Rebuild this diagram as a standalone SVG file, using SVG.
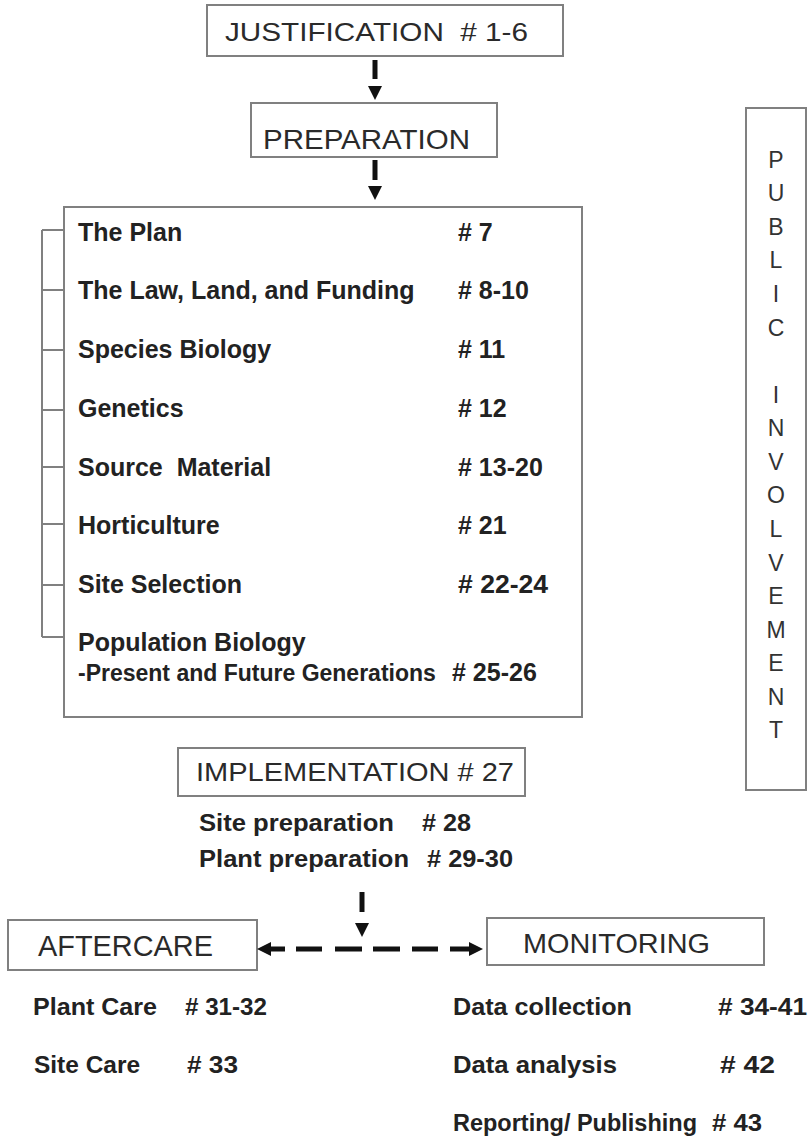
<svg xmlns="http://www.w3.org/2000/svg" width="811" height="1139" viewBox="0 0 811 1139">
<style>
.box{fill:#fff;stroke:#808080;stroke-width:2}
.reg{font-family:"Liberation Sans",Arial,sans-serif;fill:#2a2a2a}
.b{font-family:"Liberation Sans",Arial,sans-serif;font-weight:bold;fill:#222;font-size:25px}
.bs{font-family:"Liberation Sans",Arial,sans-serif;font-weight:bold;fill:#222;font-size:24px}
.dash{stroke:#111;stroke-width:5;fill:none}
.head{fill:#111}
.br{stroke:#808080;stroke-width:2;fill:none}
.pi{font-family:"Liberation Sans",Arial,sans-serif;fill:#333;font-size:23px;text-anchor:middle}
</style>
<rect width="811" height="1139" fill="#fff"/>

<g id="justification">
<rect class="box" x="207" y="5" width="356" height="51"/>
<text class="reg" x="225" y="41" font-size="26" textLength="303" lengthAdjust="spacingAndGlyphs">JUSTIFICATION&#160; # 1-6</text>
</g>

<g id="preparation">
<rect class="box" x="251" y="103" width="246" height="54"/>
<text class="reg" x="263" y="149" font-size="28" textLength="207" lengthAdjust="spacingAndGlyphs">PREPARATION</text>
</g>

<g id="prep-list">
<rect class="box" x="64" y="207" width="518" height="510"/>
<text class="b" x="78" y="241">The Plan</text><text class="b" x="458" y="241"># 7</text>
<text class="b" x="78" y="299">The Law, Land, and Funding</text><text class="b" x="458" y="299"># 8-10</text>
<text class="b" x="78" y="358">Species Biology</text><text class="b" x="458" y="358"># 11</text>
<text class="b" x="78" y="417">Genetics</text><text class="b" x="458" y="417"># 12</text>
<text class="b" x="78" y="476">Source&#160; Material</text><text class="b" x="458" y="476"># 13-20</text>
<text class="b" x="78" y="534">Horticulture</text><text class="b" x="458" y="534"># 21</text>
<text class="b" x="78" y="593">Site Selection</text><text class="b" x="458" y="593" textLength="90" lengthAdjust="spacingAndGlyphs"># 22-24</text>
<text class="b" x="78" y="651">Population Biology</text>
<text class="b" x="78" y="681" style="font-size:23px">-Present and Future Generations</text><text class="b" x="452" y="681"># 25-26</text>
</g>

<g id="public-involvement">
<rect class="box" x="746" y="108" width="60" height="682"/>
<text class="pi" x="776" y="168">P</text>
<text class="pi" x="776" y="201">U</text>
<text class="pi" x="776" y="235">B</text>
<text class="pi" x="776" y="268">L</text>
<text class="pi" x="776" y="302">I</text>
<text class="pi" x="776" y="336">C</text>
<text class="pi" x="776" y="403">I</text>
<text class="pi" x="776" y="436">N</text>
<text class="pi" x="776" y="470">V</text>
<text class="pi" x="776" y="503">O</text>
<text class="pi" x="776" y="537">L</text>
<text class="pi" x="776" y="571">V</text>
<text class="pi" x="776" y="604">E</text>
<text class="pi" x="776" y="638">M</text>
<text class="pi" x="776" y="671">E</text>
<text class="pi" x="776" y="705">N</text>
<text class="pi" x="776" y="738">T</text>
</g>

<g id="implementation">
<rect class="box" x="178" y="748" width="347" height="48"/>
<text class="reg" x="196" y="781" font-size="25" textLength="318" lengthAdjust="spacingAndGlyphs">IMPLEMENTATION # 27</text>
<text class="bs" x="199" y="831" textLength="195" lengthAdjust="spacingAndGlyphs">Site preparation</text><text class="bs" x="422" y="831" textLength="49" lengthAdjust="spacingAndGlyphs"># 28</text>
<text class="bs" x="199" y="867" textLength="210" lengthAdjust="spacingAndGlyphs">Plant preparation</text><text class="bs" x="427" y="867" textLength="86" lengthAdjust="spacingAndGlyphs"># 29-30</text>
</g>

<g id="aftercare">
<rect class="box" x="8" y="920" width="249" height="50"/>
<text class="reg" x="38" y="956" font-size="29" textLength="175" lengthAdjust="spacingAndGlyphs">AFTERCARE</text>
<text class="bs" x="33" y="1015" textLength="124" lengthAdjust="spacingAndGlyphs">Plant Care</text><text class="bs" x="185" y="1015" textLength="82" lengthAdjust="spacingAndGlyphs"># 31-32</text>
<text class="bs" x="34" y="1073" textLength="106" lengthAdjust="spacingAndGlyphs">Site Care</text><text class="bs" x="187" y="1073" textLength="51" lengthAdjust="spacingAndGlyphs"># 33</text>
</g>

<g id="monitoring">
<rect class="box" x="487" y="918" width="277" height="47"/>
<text class="reg" x="523" y="953" font-size="28" textLength="187" lengthAdjust="spacingAndGlyphs">MONITORING</text>
<text class="bs" x="453" y="1015" textLength="179" lengthAdjust="spacingAndGlyphs">Data collection</text><text class="bs" x="718" y="1015" textLength="89" lengthAdjust="spacingAndGlyphs"># 34-41</text>
<text class="bs" x="453" y="1073" textLength="164" lengthAdjust="spacingAndGlyphs">Data analysis</text><text class="bs" x="720" y="1073" textLength="55" lengthAdjust="spacingAndGlyphs"># 42</text>
<text class="bs" x="453" y="1131" textLength="244" lengthAdjust="spacingAndGlyphs">Reporting/ Publishing</text><text class="bs" x="712" y="1131" textLength="50" lengthAdjust="spacingAndGlyphs"># 43</text>
</g>

<g id="connectors">
<path class="br" d="M42,230 V637 M42,230 H64 M42,290 H64 M42,350 H64 M42,410 H64 M42,467 H64 M42,524 H64 M42,585 H64 M42,637 H64"/>
<line class="dash" x1="375" y1="60" x2="375" y2="79"/>
<polygon class="head" points="368,86 382,86 375,100"/>
<line class="dash" x1="375" y1="160" x2="375" y2="180"/>
<polygon class="head" points="368,186 382,186 375,200"/>
<line class="dash" x1="362" y1="892" x2="362" y2="912"/>
<polygon class="head" points="355,923 369,923 362,937"/>
<path class="dash" d="M268,949 H285 M296,949 H322 M335,949 H362 M373,949 H400 M412,949 H438 M450,949 H472"/>
<polygon class="head" points="257,949 271,942 271,956"/>
<polygon class="head" points="483,949 469,942 469,956"/>
</g>
</svg>
